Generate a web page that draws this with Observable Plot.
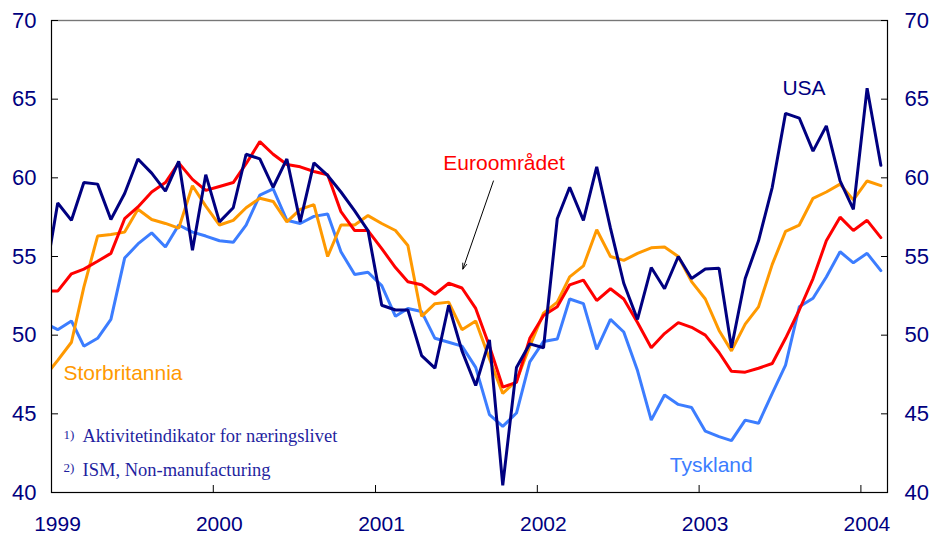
<!DOCTYPE html>
<html><head><meta charset="utf-8">
<script src="https://cdn.jsdelivr.net/npm/d3@7"></script>
<script src="https://cdn.jsdelivr.net/npm/@observablehq/plot@0.6"></script>
<style>body{margin:0;background:#fff}#chart svg{display:block}</style>
</head><body><div id="chart"></div>
<script>
// Monthly values, Dec 1998 ... Feb 2004 (63 months)
const usa = [53.2,
  58.4, 57.3, 59.7, 59.6, 57.35, 59.0, 61.2, 60.3, 59.15, 61.05, 55.4, 60.2,
  57.2, 58.1, 61.5, 61.2, 59.4, 61.2, 57.2, 60.95, 60.15, 59.1, 57.9, 56.65,
  51.9, 51.6, 51.6, 48.7, 47.9, 51.9, 49.0, 46.8, 49.7, 40.45, 47.95, 49.45,
  49.2, 57.4, 59.4, 57.3, 60.7, 56.8, 53.3, 51.0, 54.3, 52.95, 55.0, 53.6,
  54.2, 54.25, 49.2, 53.6, 56.0, 59.4, 64.1, 63.8, 61.7, 63.3, 59.8, 58.0,
  65.7, 60.8];
const euro = [52.8,
  52.8, 53.9, 54.2, 54.7, 55.2, 57.4, 58.15, 59.1, 59.7, 60.95, 59.9, 59.2,
  59.45, 59.7, 60.9, 62.3, 61.5, 60.85, 60.7, 60.4, 60.2, 57.85, 56.65, 56.65,
  55.5, 54.3, 53.4, 53.2, 52.6, 53.3, 53.0, 51.7, 49.3, 46.7, 47.0, 49.8,
  51.25, 51.8, 53.2, 53.5, 52.2, 52.95, 52.3, 50.8, 49.2, 50.1, 50.8, 50.5,
  50.0, 48.9, 47.7, 47.65, 47.9, 48.2, 49.8, 51.6, 53.6, 56.0, 57.5, 56.65,
  57.3, 56.2];
const uk = [47.3,
  48.4, 49.55, 53.05, 56.3, 56.4, 56.55, 58.0, 57.35, 57.1, 56.8, 59.5, 58.2,
  57.0, 57.3, 58.1, 58.7, 58.5, 57.2, 58.0, 58.3, 55.0, 57.0, 57.0, 57.6,
  57.1, 56.65, 55.7, 51.2, 52.0, 52.1, 50.35, 50.9, 48.5, 46.3, 47.1, 49.3,
  51.4, 52.1, 53.7, 54.4, 56.7, 55.0, 54.75, 55.2, 55.55, 55.6, 55.0, 53.4,
  52.3, 50.3, 49.0, 50.7, 51.8, 54.5, 56.6, 57.0, 58.7, 59.1, 59.6, 58.6,
  59.8, 59.5];
const de = [50.8,
  50.35, 50.9, 49.3, 49.8, 51.0, 54.9, 55.8, 56.5, 55.6, 57.0, 56.55, 56.3,
  56.0, 55.9, 57.0, 58.9, 59.3, 57.3, 57.1, 57.55, 57.7, 55.3, 53.85, 54.0,
  53.15, 51.2, 51.7, 51.5, 49.8, 49.55, 49.3, 47.95, 44.95, 44.2, 45.05, 48.3,
  49.6, 49.75, 52.3, 52.0, 49.1, 51.0, 50.2, 47.75, 44.6, 46.2, 45.6, 45.4,
  43.9, 43.55, 43.3, 44.6, 44.4, 46.3, 48.1, 51.8, 52.35, 53.7, 55.3, 54.6,
  55.2, 54.1];

const yearTicks = [1999, 2000, 2001, 2002, 2003, 2004];
const yTicks = [40, 45, 50, 55, 60, 65, 70];
const seriesNames = ["Tyskland", "Storbritannia", "Euroområdet", "USA"];
const seriesColors = ["#3C7DFF", "#FF9900", "#FF0000", "#000080"];
const footnotes = ["Aktivitetindikator for næringslivet", "ISM, Non-manufacturing"];
const footnoteMarks = ["1)", "2)"];

const navy = "#000080";
const serif = "'Liberation Serif', 'Times New Roman', serif";
const months = d3.utcMonth.range(new Date(Date.UTC(1998, 11, 1)), new Date(Date.UTC(2004, 2, 1)))
  .map(d => d3.utcDay.offset(d, 14));
const seriesValues = [de, uk, euro, usa];
const tables = seriesValues.map((vals, s) => vals.map((v, i) => ({series: seriesNames[s], date: months[i], value: v})));
const yearDates = yearTicks.map(y => new Date(Date.UTC(y, 0, 1)));

// label anchor points (data coordinates)
const labels = [
  {label: "Tyskland", date: new Date(Date.UTC(2002, 9, 27)), value: 41.7, color: seriesColors[0]},
  {label: "Storbritannia", date: new Date(Date.UTC(1999, 0, 28)), value: 47.6, color: seriesColors[1]},
  {label: "Euroområdet", date: new Date(Date.UTC(2001, 5, 3)), value: 60.9, color: seriesColors[2]},
  {label: "USA", date: new Date(Date.UTC(2003, 6, 8)), value: 65.7, color: seriesColors[3]}
];
const arrowData = [{x1: new Date(Date.UTC(2001, 8, 24)), y1: 59.8, x2: new Date(Date.UTC(2001, 6, 17)), y2: 54.2}];

const plot = Plot.plot({
  width: 935,
  height: 536,
  marginLeft: 51,
  marginRight: 48,
  marginTop: 20,
  marginBottom: 44,
  style: {fontFamily: "'Liberation Sans', Arial, sans-serif", background: "#fff"},
  x: {type: "utc", domain: [new Date(Date.UTC(1999, 0, 1)), new Date(Date.UTC(2004, 2, 1))]},
  y: {domain: [40, 70]},
  marks: [
    ...tables.map((t, s) => Plot.line(t, {x: "date", y: "value", stroke: seriesColors[s], strokeWidth: 3, strokeLinejoin: "miter", clip: true})),
    Plot.frame({stroke: "#000", strokeWidth: 1.2}),
    Plot.ruleY([70], {stroke: "#777", strokeWidth: 1.2}),
    // inward tick marks
    Plot.axisY({anchor: "left", ticks: yTicks, tickSize: 7, dx: 7, text: null, label: null, stroke: "#000"}),
    Plot.axisY({anchor: "right", ticks: yTicks, tickSize: 7, dx: -7, text: null, label: null, stroke: "#000"}),
    Plot.axisX({anchor: "bottom", ticks: yearDates, tickSize: 7, dy: -7, text: null, label: null, stroke: "#000"}),
    // labels
    Plot.axisY({anchor: "left", ticks: yTicks, tickSize: 0, tickPadding: 15, fontSize: 22, fill: navy, label: null}),
    Plot.axisY({anchor: "right", ticks: yTicks, tickSize: 0, tickPadding: 17, fontSize: 22, fill: navy, label: null}),
    Plot.axisX({anchor: "bottom", ticks: yearDates, tickFormat: d3.utcFormat("%Y"), tickSize: 0, tickPadding: 24, dx: 6, fontSize: 21, fill: navy, label: null}),
    ...labels.map(l => Plot.text([l], {x: "date", y: "value", text: "label", fill: l.color, textAnchor: "start", fontSize: 21})),
    Plot.arrow(arrowData, {x1: "x1", y1: "y1", x2: "x2", y2: "y2", stroke: "#000", strokeWidth: 1, headLength: 9, headAngle: 40}),
    Plot.text([footnoteMarks[0]], {frameAnchor: "bottom-left", dx: 12, dy: -54, fontSize: 13, fill: "#1F1F9F", textAnchor: "start", fontFamily: serif}),
    Plot.text([footnoteMarks[1]], {frameAnchor: "bottom-left", dx: 12, dy: -20.5, fontSize: 13, fill: "#1F1F9F", textAnchor: "start", fontFamily: serif}),
    Plot.text([footnotes[0]], {frameAnchor: "bottom-left", dx: 31, dy: -50.5, fontSize: 18.5, fill: "#1F1F9F", textAnchor: "start", fontFamily: serif}),
    Plot.text([footnotes[1]], {frameAnchor: "bottom-left", dx: 31, dy: -16.5, fontSize: 18.5, fill: "#1F1F9F", textAnchor: "start", fontFamily: serif})
  ]
});
document.getElementById("chart").appendChild(plot);
</script>
</body></html>
